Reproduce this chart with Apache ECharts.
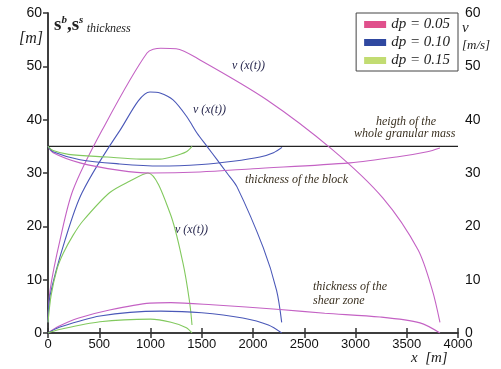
<!DOCTYPE html>
<html>
<head>
<meta charset="utf-8">
<script src="https://cdn.jsdelivr.net/npm/echarts@6/dist/echarts.min.js"></script>
<style>
  html, body { margin: 0; padding: 0; background: #fff; }
  #main { width: 501px; height: 369px; }
</style>
</head>
<body>
<div id="main"></div>
<script>
// x ticks and the level of the whole granular mass
const xTicks = [0, 500, 1000, 1500, 2000, 2500, 3000, 3500, 4000]
const massHeight = 35

// v(x(t)) curves [x, v]
const vPink = [[0, 2], [20, 8], [117, 17.4], [244, 26.8], [527, 38], [966, 52.5], [1100, 53.4], [1250, 53.3], [1483, 51.2], [2137, 43.7], [2780, 34.3], [3268, 25.3], [3610, 15.6], [3750, 8], [3824, 2]]
const vBlue = [[0, 2], [20, 7], [166, 17.4], [332, 26.3], [702, 38], [995, 45.2], [1093, 45], [1220, 43.7], [1356, 40.5], [1453, 37.5], [1551, 35], [1649, 32.5], [1746, 30], [1844, 27.4], [2100, 16], [2230, 8], [2280, 2]]
const vGreen = [[0, 2], [30, 7], [88, 12], [150, 15], [244, 18.3], [340, 21], [600, 26.3], [800, 28.5], [975, 30], [1190, 22.5], [1317, 13.1], [1380, 6], [1405, 1.5]]

// thickness of the block [x, s]
const blockPink = [[0, 35], [50, 33.8], [312, 31.9], [700, 30.5], [1000, 30], [1483, 30.2], [2000, 30.8], [2946, 31.9], [3400, 33], [3700, 34], [3824, 34.7]]
const blockBlue = [[0, 35], [50, 34], [312, 32.5], [700, 31.7], [1093, 31.3], [1500, 31.6], [1805, 32.2], [2068, 33], [2200, 33.8], [2283, 34.8]]
const blockGreen = [[0, 35], [50, 34.2], [200, 33.5], [575, 33], [900, 32.6], [1093, 32.6], [1220, 33.1], [1350, 34], [1405, 35]]

// thickness of the shear zone [x, s]
const shearPink = [[0, 0], [100, 1.2], [300, 2.8], [600, 4.3], [995, 5.6], [1200, 5.7], [1600, 5.3], [2263, 4.4], [2700, 3.7], [3239, 3], [3629, 1.9], [3824, 0]]
const shearBlue = [[0, 0], [100, 1], [507, 3.2], [1100, 4.1], [1500, 3.8], [1900, 2.8], [2150, 1.5], [2280, 0]]
const shearGreen = [[0, 0], [100, 0.6], [507, 2.1], [1000, 2.6], [1200, 2], [1350, 1], [1405, 0]]

const legendNames = ['dp = 0.05', 'dp = 0.10', 'dp = 0.15']
const legendColors = ['#e0508c', '#2f48a0', '#c2dc72']
const lineColors = ['#c462c4', '#4a58b8', '#82c95e']

const myChart = echarts.init(document.getElementById('main'))

const serif = 'Liberation Serif'
const noteColor = '#3a3020'

function curve(name, data, color, yIndex) {
  return {
    name: name,
    type: 'line',
    data: data,
    yAxisIndex: yIndex,
    smooth: 0.3,
    showSymbol: false,
    lineStyle: { color: color, width: 1.1 },
    itemStyle: { color: color },
    z: 3
  }
}

const axisLine = { show: true, lineStyle: { color: '#333', width: 1.5 } }
const tickIn = { inside: true, length: 5, lineStyle: { color: '#333', width: 1.5 } }
const tickOut = { inside: false, length: 5, lineStyle: { color: '#333', width: 1.5 } }
const labelStyle = {
  color: '#111', fontFamily: 'Liberation Sans', fontSize: 13,
  formatter: (v) => String(v)
}

function note(x, y, text, color) {
  return {
    type: 'text',
    left: x,
    top: y,
    style: { text: text, fill: color || noteColor, font: 'italic 12px ' + serif }
  }
}

myChart.setOption({
  animation: false,
  grid: { left: 48, right: 43, top: 13, bottom: 36 },
  legend: {
    orient: 'vertical',
    right: 43,
    top: 13,
    itemWidth: 22,
    itemHeight: 7,
    itemGap: 3,
    padding: [4, 8, 3, 8],
    borderColor: '#444',
    borderWidth: 1,
    backgroundColor: '#fff',
    textStyle: { fontFamily: serif, fontStyle: 'italic', fontSize: 15, lineHeight: 15, color: '#222' },
    data: legendNames.map((n, i) => ({ name: n, icon: 'rect', itemStyle: { color: legendColors[i] } }))
  },
  xAxis: [
    {
      type: 'value', min: 0, max: 4000, interval: 500,
      axisLine: axisLine, axisTick: tickIn, splitLine: { show: false },
      axisLabel: Object.assign({ margin: 5 }, labelStyle)
    },
    {
      type: 'value', position: 'top', min: 0, max: 4000, interval: 500,
      axisLine: axisLine, axisTick: tickIn, splitLine: { show: false },
      axisLabel: { show: false }
    }
  ],
  yAxis: [
    {
      type: 'value', min: 0, max: 60, interval: 10,
      axisLine: axisLine, axisTick: tickOut, splitLine: { show: false },
      axisLabel: Object.assign({ margin: 6 }, labelStyle, { fontSize: 14 })
    },
    {
      type: 'value', position: 'right', min: 0, max: 60, interval: 10,
      axisLine: axisLine, axisTick: tickIn, splitLine: { show: false },
      axisLabel: Object.assign({ margin: 7 }, labelStyle, { fontSize: 14 })
    }
  ],
  series: [
    {
      name: 'mass',
      type: 'line',
      data: [[xTicks[0], massHeight], [xTicks[xTicks.length - 1], massHeight]],
      showSymbol: false,
      lineStyle: { color: '#222', width: 1.3 },
      z: 2
    },
    curve(legendNames[0], vPink, lineColors[0], 1),
    curve(legendNames[1], vBlue, lineColors[1], 1),
    curve(legendNames[2], vGreen, lineColors[2], 1),
    curve('block 0.05', blockPink, lineColors[0], 0),
    curve('block 0.10', blockBlue, lineColors[1], 0),
    curve('block 0.15', blockGreen, lineColors[2], 0),
    curve('shear 0.05', shearPink, lineColors[0], 0),
    curve('shear 0.10', shearBlue, lineColors[1], 0),
    curve('shear 0.15', shearGreen, lineColors[2], 0)
  ],
  graphic: [
    {
      type: 'text', left: 54, top: 15,
      style: {
        text: '{s|s}{p|b}{s|,s}{p|s} {t|thickness}',
        rich: {
          s: { font: 'bold 19px ' + serif, fill: '#222', verticalAlign: 'bottom', lineHeight: 20 },
          p: { font: 'bold italic 11px ' + serif, fill: '#222', verticalAlign: 'top', lineHeight: 20 },
          t: { font: 'italic 12px ' + serif, fill: '#222', verticalAlign: 'bottom', lineHeight: 18 }
        }
      }
    },
    { type: 'text', left: 19, top: 31, style: { text: '[m]', fill: '#222', font: 'italic 16px ' + serif } },
    { type: 'text', left: 462, top: 21, style: { text: 'v', fill: '#222', font: 'italic 15px ' + serif } },
    { type: 'text', left: 462, top: 39, style: { text: '[m/s]', fill: '#222', font: 'italic 13px ' + serif } },
    { type: 'text', left: 411, top: 351, style: { text: 'x  [m]', fill: '#222', font: 'italic 15px ' + serif } },
    note(232, 60, 'v (x(t))', '#2a2a50'),
    note(193, 104, 'v (x(t))', '#2a2a50'),
    note(175, 224, 'v (x(t))', '#2a2a50'),
    note(376, 116, 'heigth of the'),
    note(354, 128, 'whole granular mass'),
    note(245, 174, 'thickness of the block'),
    note(313, 281, 'thickness of the'),
    note(313, 295, 'shear zone')
  ]
})
</script>
</body>
</html>
